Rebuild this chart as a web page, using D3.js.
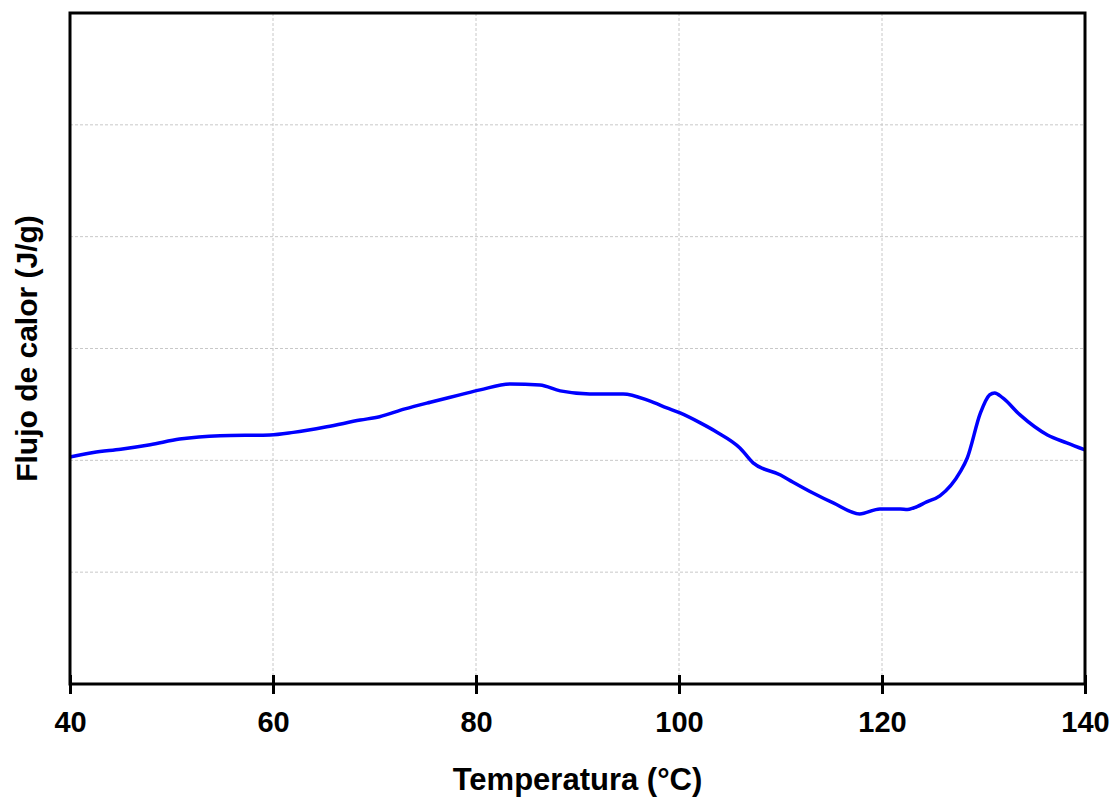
<!DOCTYPE html>
<html>
<head>
<meta charset="utf-8">
<script src="https://cdn.jsdelivr.net/npm/d3@7"></script>
<style>
  body { margin: 0; background: #fff; }
  text { font-family: "Liberation Sans", Arial, sans-serif; font-weight: bold; }
</style>
</head>
<body>
<svg width="1117" height="798"></svg>
<script>
// data
var temperatura = [40, 42.3, 45, 47.9, 50.8, 54.8, 59.7, 62, 65.3, 68.6, 70.5, 73, 75.5, 78.4, 80.4, 83.4, 86.3, 88.3, 91.2, 94.5, 97.1, 98.8, 100.1, 102.1, 103.7, 106, 107.3, 110, 111.2, 113.2, 115.2, 117.8, 119.8, 121.8, 122.5, 123.1, 124.4, 125.7, 127.7, 128.4, 129.7, 130.6, 131.1, 131.9, 133.6, 136.3, 138.2, 140];
var flujo = [2.03, 2.07, 2.10, 2.14, 2.19, 2.22, 2.227, 2.25, 2.30, 2.36, 2.39, 2.46, 2.52, 2.585, 2.63, 2.683, 2.674, 2.621, 2.594, 2.594, 2.531, 2.469, 2.424, 2.335, 2.254, 2.111, 1.977, 1.869, 1.807, 1.708, 1.619, 1.521, 1.565, 1.565, 1.56, 1.574, 1.628, 1.682, 1.896, 2.021, 2.424, 2.585, 2.603, 2.558, 2.406, 2.227, 2.156, 2.093];
var xTicks = [40, 60, 80, 100, 120, 140];
var yGrid = [0, 1, 2, 3, 4, 5, 6];

var svg = d3.select('svg'),
    margin = {top: 13, right: 32, bottom: 114, left: 70},
    width = +svg.attr("width") - margin.left - margin.right,
    height = +svg.attr("height") - margin.top - margin.bottom;

var g = svg.append("g")
    .attr("transform", "translate(" + margin.left + "," + margin.top + ")");

var x = d3.scaleLinear().domain([40, 140]).range([0, width]);
var y = d3.scaleLinear().domain([0, 6]).range([height, 0]);

// grid
g.selectAll(".vgrid").data(xTicks).enter().append("line")
    .attr("x1", function(d){ return x(d); }).attr("x2", function(d){ return x(d); })
    .attr("y1", 0).attr("y2", height)
    .attr("stroke", "#c8c8c8").attr("stroke-width", 1).attr("stroke-dasharray", "3,2");
g.selectAll(".hgrid").data(yGrid).enter().append("line")
    .attr("x1", 0).attr("x2", width)
    .attr("y1", function(d){ return y(d); }).attr("y2", function(d){ return y(d); })
    .attr("stroke", "#c8c8c8").attr("stroke-width", 1).attr("stroke-dasharray", "3,2");

// curve
var line = d3.line()
    .x(function(d, i){ return x(temperatura[i]); })
    .y(function(d){ return y(d); })
    .curve(d3.curveMonotoneX);

g.append("path")
    .datum(flujo)
    .attr("d", line)
    .attr("fill", "none")
    .attr("stroke", "#0000ff")
    .attr("stroke-width", 3.5)
    .attr("stroke-linejoin", "round");

// frame
g.append("rect")
    .attr("width", width).attr("height", height)
    .attr("fill", "none").attr("stroke", "#000").attr("stroke-width", 3);

// x axis
var xAxis = d3.axisBottom(x).tickValues(xTicks).tickSize(10).tickPadding(17).tickFormat(d3.format("d"));
var ax = g.append("g").attr("transform", "translate(0," + height + ")").call(xAxis);
ax.select(".domain").remove();
ax.selectAll(".tick line").attr("y1", -9).attr("stroke-width", 3);
ax.selectAll(".tick text").style("font-size", "29px").attr("fill", "#000");

// labels
svg.append("text")
    .attr("x", margin.left + width / 2).attr("y", 790)
    .attr("text-anchor", "middle").style("font-size", "31px")
    .text("Temperatura (°C)");

svg.append("text")
    .attr("transform", "translate(37," + (margin.top + height / 2) + ") rotate(-90)")
    .attr("text-anchor", "middle").style("font-size", "30px")
    .text("Flujo de calor (J/g)");
</script>
</body>
</html>
